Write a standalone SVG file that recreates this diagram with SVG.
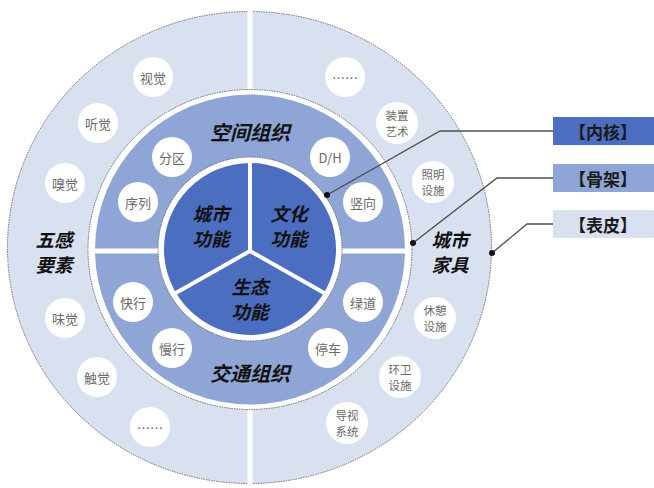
<svg xmlns="http://www.w3.org/2000/svg" width="654" height="488" viewBox="0 0 654 488">
<style>
.dash{fill:none;stroke:#6e6e6e;stroke-width:1;stroke-dasharray:1.5 1}
.div{stroke:#ffffff;stroke-width:5}
.idiv{stroke:#ffffff;stroke-width:4}
.node{fill:#ffffff}
.nt{font-family:"Noto Sans CJK SC","Noto Sans",sans-serif;font-size:13px;fill:#6a6a6a;text-anchor:middle;dominant-baseline:central}
.nt2{font-family:"Noto Sans CJK SC","Noto Sans",sans-serif;font-size:11.5px;fill:#6a6a6a;text-anchor:middle;dominant-baseline:central}
.cat{font-family:"Noto Sans CJK SC","Noto Sans",sans-serif;font-size:20px;font-weight:bold;font-style:italic;fill:#111111;text-anchor:middle;dominant-baseline:central}
.cat2{font-family:"Noto Sans CJK SC","Noto Sans",sans-serif;font-size:18.5px;font-weight:bold;font-style:italic;fill:#111111;text-anchor:middle;dominant-baseline:central}
.box{font-family:"Noto Sans CJK SC","Noto Sans",sans-serif;font-size:17px;font-weight:bold;fill:#1a1a1a;text-anchor:middle;dominant-baseline:central}
.lead{fill:none;stroke:#4d4d4d;stroke-width:1.3}
</style>
<rect width="654" height="488" fill="#ffffff"/>
<g id="rings">
<ellipse cx="249.5" cy="247.5" rx="242" ry="236" fill="#d9e1f0"/>
<ellipse class="dash" cx="249.5" cy="247.5" rx="242" ry="236"/>
<line class="div" x1="250" y1="5" x2="250" y2="490"/>
<ellipse cx="250" cy="249.5" rx="162" ry="160" fill="#ffffff"/>
<ellipse class="dash" cx="250" cy="249.5" rx="162" ry="160"/>
<circle cx="250" cy="249.5" r="155" fill="#8ea5d6"/>
<line class="div" x1="90" y1="251" x2="410" y2="251"/>
<circle cx="250" cy="249" r="92" fill="#ffffff"/>
<circle class="dash" cx="250" cy="249" r="92"/>
<circle cx="250" cy="249" r="86" fill="#4b6ec1"/>
<line class="idiv" x1="250" y1="251" x2="250" y2="160"/>
<line class="idiv" x1="250" y1="251" x2="174" y2="294"/>
<line class="idiv" x1="250" y1="251" x2="326" y2="294"/>
</g>
<g id="connectors">
<polyline class="lead" points="553,131 440,131 327,195"/>
<polyline class="lead" points="553,178 497,178 413,243"/>
<polyline class="lead" points="553,224 527,224 492,253"/>
<circle cx="327" cy="195" r="3" fill="#111"/>
<circle cx="413" cy="243" r="3" fill="#111"/>
<circle cx="492" cy="253" r="3" fill="#111"/>
</g>
<g id="inner-labels">
<g id="n-chengshi-gongneng"><text class="cat2" x="211" y="212.5">城市<tspan x="211" dy="25">功能</tspan></text></g>
<g id="n-wenhua-gongneng"><text class="cat2" x="289" y="212.5">文化<tspan x="289" dy="25">功能</tspan></text></g>
<g id="n-shengtai-gongneng"><text class="cat2" x="250" y="285.5">生态<tspan x="250" dy="25">功能</tspan></text></g>
</g>
<g id="ring-labels">
<g id="n-kongjian"><text class="cat" x="250" y="131">空间组织</text></g>
<g id="n-jiaotong"><text class="cat" x="250" y="372">交通组织</text></g>
<g id="n-wugan"><text class="cat2" x="54" y="238.5">五感<tspan x="54" dy="25">要素</tspan></text></g>
<g id="n-jiaju"><text class="cat2" x="450" y="238.5">城市<tspan x="450" dy="25">家具</tspan></text></g>
</g>
<g id="nodes">
<g id="n-shijue"><circle class="node" cx="153" cy="77" r="20"/><text class="nt" x="153" y="77">视觉</text></g>
<g id="n-tingjue"><circle class="node" cx="98" cy="123" r="20"/><text class="nt" x="98" y="123">听觉</text></g>
<g id="n-xiujue"><circle class="node" cx="65" cy="183" r="20"/><text class="nt" x="65" y="183">嗅觉</text></g>
<g id="n-weijue"><circle class="node" cx="65" cy="318" r="20"/><text class="nt" x="65" y="318">味觉</text></g>
<g id="n-chujue"><circle class="node" cx="97" cy="377" r="20"/><text class="nt" x="97" y="377">触觉</text></g>
<g id="n-etc-left"><circle class="node" cx="150" cy="427" r="20"/><text class="nt" x="150" y="427">……</text></g>
<g id="n-etc-right"><circle class="node" cx="345" cy="77" r="20"/><text class="nt" x="345" y="77">……</text></g>
<g id="n-zhuangzhi"><circle class="node" cx="397" cy="123" r="21"/><text class="nt2" x="397" y="115.25">装置<tspan x="397" dy="15.5">艺术</tspan></text></g>
<g id="n-zhaoming"><circle class="node" cx="433" cy="182" r="21"/><text class="nt2" x="433" y="174.25">照明<tspan x="433" dy="15.5">设施</tspan></text></g>
<g id="n-xiuqi"><circle class="node" cx="435" cy="318" r="21"/><text class="nt2" x="435" y="310.25">休憩<tspan x="435" dy="15.5">设施</tspan></text></g>
<g id="n-huanwei"><circle class="node" cx="400" cy="377" r="21"/><text class="nt2" x="400" y="369.25">环卫<tspan x="400" dy="15.5">设施</tspan></text></g>
<g id="n-daoshi"><circle class="node" cx="347" cy="423" r="21"/><text class="nt2" x="347" y="415.25">导视<tspan x="347" dy="15.5">系统</tspan></text></g>
<g id="n-fenqu"><circle class="node" cx="172" cy="157" r="20"/><text class="nt" x="172" y="157">分区</text></g>
<g id="n-xulie"><circle class="node" cx="138" cy="202" r="20"/><text class="nt" x="138" y="202">序列</text></g>
<g id="n-dh"><circle class="node" cx="330" cy="157" r="20"/><text class="nt" x="330" y="157">D/H</text></g>
<g id="n-shuxiang"><circle class="node" cx="363" cy="202" r="20"/><text class="nt" x="363" y="202">竖向</text></g>
<g id="n-kuaixing"><circle class="node" cx="133" cy="302" r="20"/><text class="nt" x="133" y="302">快行</text></g>
<g id="n-manxing"><circle class="node" cx="172" cy="348" r="20"/><text class="nt" x="172" y="348">慢行</text></g>
<g id="n-lvdao"><circle class="node" cx="363" cy="302" r="20"/><text class="nt" x="363" y="302">绿道</text></g>
<g id="n-tingche"><circle class="node" cx="328" cy="348" r="20"/><text class="nt" x="328" y="348">停车</text></g>
</g>
<g id="legend">
<g id="n-neihe"><rect x="553" y="117" width="101" height="28" fill="#4b6ec1"/><text class="box" x="603" y="131">【内核】</text></g>
<g id="n-gujia"><rect x="553" y="164" width="101" height="28" fill="#8ea5d6"/><text class="box" x="603" y="178">【骨架】</text></g>
<g id="n-biaopi"><rect x="553" y="210" width="101" height="28" fill="#d9e1f0"/><text class="box" x="603" y="224">【表皮】</text></g>
</g>
</svg>
